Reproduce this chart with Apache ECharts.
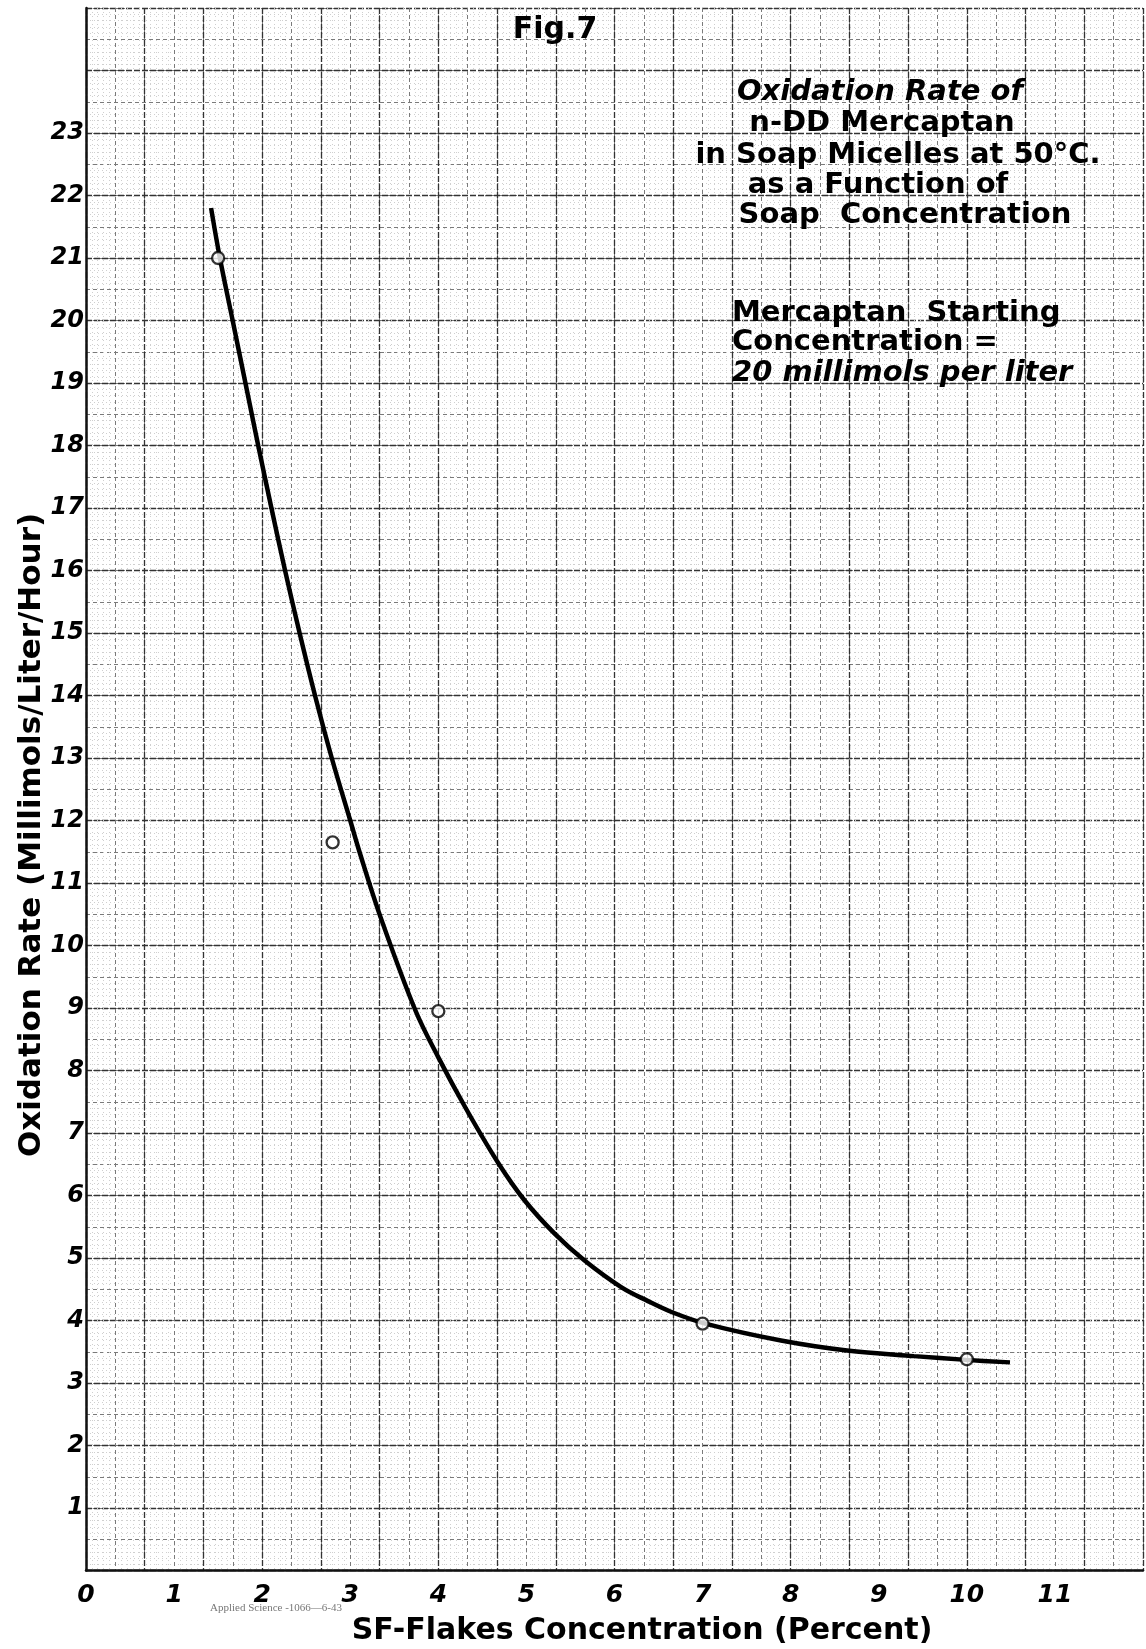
<!DOCTYPE html>
<html><head><meta charset="utf-8">
<script src="https://cdn.jsdelivr.net/npm/echarts@6/dist/echarts.min.js"></script>
<style>html,body{margin:0;padding:0;background:#fff}#c{width:1146px;height:1649px}</style>
</head><body><div id="c"></div>
<script>
// ---- data ----
const xTickLabels = [0,1,2,3,4,5,6,7,8,9,10,11];
const yTickLabels = [1,2,3,4,5,6,7,8,9,10,11,12,13,14,15,16,17,18,19,20,21,22,23];
// measured points (open circles)
const pointX = [1.5, 2.8, 4.0, 7.0, 10.0];
const pointY = [21.0, 11.65, 8.95, 3.95, 3.38];
const curveX = [1.42, 1.52, 1.665, 1.81, 1.955, 2.105, 2.26, 2.425, 2.60, 2.79, 3.00, 3.10, 3.345, 3.74, 4.00, 4.31, 4.68, 4.98, 5.32, 5.66, 6.08, 6.38, 6.64, 7.03, 7.89, 8.64, 9.40, 9.99, 10.49];
const curveY = [21.8, 21.0, 20.0, 19.0, 18.0, 17.0, 16.0, 15.0, 14.0, 13.0, 12.0, 11.52, 10.45, 8.96, 8.21, 7.40, 6.52, 5.92, 5.39, 4.96, 4.53, 4.31, 4.14, 3.95, 3.68, 3.52, 3.43, 3.37, 3.33];

const figLabel = 'Fig.7';
const titleLines = ['Oxidation Rate of', 'n-DD Mercaptan', 'in Soap Micelles at 50°C.', 'as a Function of', 'Soap  Concentration'];
const noteLines = ['Mercaptan  Starting', 'Concentration =', '20 millimols per liter'];
const yName = 'Oxidation Rate (Millimols/Liter/Hour)';
const xName = 'SF-Flakes Concentration (Percent)';
const printMark = 'Applied Science -1066\u20146-43';

const chart = echarts.init(document.getElementById('c'), null, {renderer:'canvas'});
const FF = '"DejaVu Sans", "Open Sans", sans-serif';

function gridAxis(max, interval, color, width, type, minorSplit, minorColor) {
  const a = {
    type:'value', min:0, max:max, interval:interval,
    axisLine:{show:false}, axisTick:{show:false}, axisLabel:{show:false},
    splitLine:{show:true, lineStyle:{color:color, width:width, type:type}},
    z:0
  };
  if (minorSplit) {
    a.minorTick = {show:false, splitNumber:minorSplit};
    a.minorSplitLine = {show:true, lineStyle:{color:minorColor, width:1, type:[1,3]}};
  }
  return a;
}

const texts = [];
texts.push({type:'text', x:555, y:30, z:10, style:{text:figLabel, font:'bold 30px '+FF, fill:'#000', textAlign:'center', textVerticalAlign:'middle'}});
const titleY = [92, 123, 155, 185, 215];
const titleX = [880, 882, 898, 878, 905];
titleLines.forEach((t,i)=>{
  texts.push({type:'text', x:titleX[i], y:titleY[i], z:10, style:{text:t, font:(i===0?'italic ':'')+'bold 29px '+FF, fill:'#000', textAlign:'center', textVerticalAlign:'middle'}});
});
const noteY = [313, 342, 373];
noteLines.forEach((t,i)=>{
  texts.push({type:'text', x:732, y:noteY[i], z:10, style:{text:t, font:(i===2?'italic ':'')+'bold 29px '+FF, fill:'#000', textAlign:'left', textVerticalAlign:'middle'}});
});
texts.push({type:'text', x:32, y:835, rotation:Math.PI/2, z:10, style:{text:yName, font:'bold 31px '+FF, fill:'#000', textAlign:'center', textVerticalAlign:'middle'}});
texts.push({type:'text', x:642, y:1631, z:10, style:{text:xName, font:'bold 30px '+FF, fill:'#000', textAlign:'center', textVerticalAlign:'middle'}});
texts.push({type:'text', x:210, y:1608, z:10, style:{text:printMark, font:'11px "Liberation Serif", serif', fill:'#777', textAlign:'left', textVerticalAlign:'middle'}});

const option = {
  backgroundColor:'#ffffff',
  animation:false,
  grid:{left:86, top:8, right:0, bottom:78.5, containLabel:false},
  xAxis:[
    {type:'value', min:0, max:12, interval:1, position:'bottom',
     axisLine:{show:true, onZero:false, lineStyle:{color:'#111', width:2.5}},
     axisTick:{show:false}, splitLine:{show:false},
     axisLabel:{formatter:(v)=> xTickLabels.indexOf(v)>=0 ? String(v) : '', fontFamily:FF, fontSize:25, fontWeight:'bold', fontStyle:'italic', color:'#000', margin:12},
     z:5},
    // graph-paper rulings, in paper inches (12 units = 18 in)
    gridAxis(18, 0.5, '#7a7a7a', 1, [4,3], 5, '#cfcfcf'),
    gridAxis(18, 1, '#333', 1.3, [6,2])
  ],
  yAxis:[
    {type:'value', min:0, max:25, interval:1, position:'left',
     axisLine:{show:true, onZero:false, lineStyle:{color:'#111', width:2.5}},
     axisTick:{show:false}, splitLine:{show:false},
     axisLabel:{formatter:(v)=> yTickLabels.indexOf(v)>=0 ? String(v) : '', fontFamily:FF, fontSize:24, fontWeight:'bold', fontStyle:'italic', color:'#000', margin:2},
     z:5},
    gridAxis(25, 0.5, '#7a7a7a', 1, [4,3], 5, '#cfcfcf'),
    gridAxis(25, 1, '#333', 1.3, [6,2])
  ],
  series:[
    {type:'line', xAxisIndex:0, yAxisIndex:0, smooth:0.35, symbol:'none',
     lineStyle:{color:'#000', width:4.5}, z:6,
     data: curveX.map((x,i)=>[x, curveY[i]])},
    {type:'scatter', xAxisIndex:0, yAxisIndex:0, symbol:'circle', symbolSize:12, z:7,
     itemStyle:{color:'#fff', borderColor:'#000', borderWidth:2.3},
     data: pointX.map((x,i)=>[x, pointY[i]])}
  ],
  graphic: texts
};
chart.setOption(option);
</script>
</body></html>
